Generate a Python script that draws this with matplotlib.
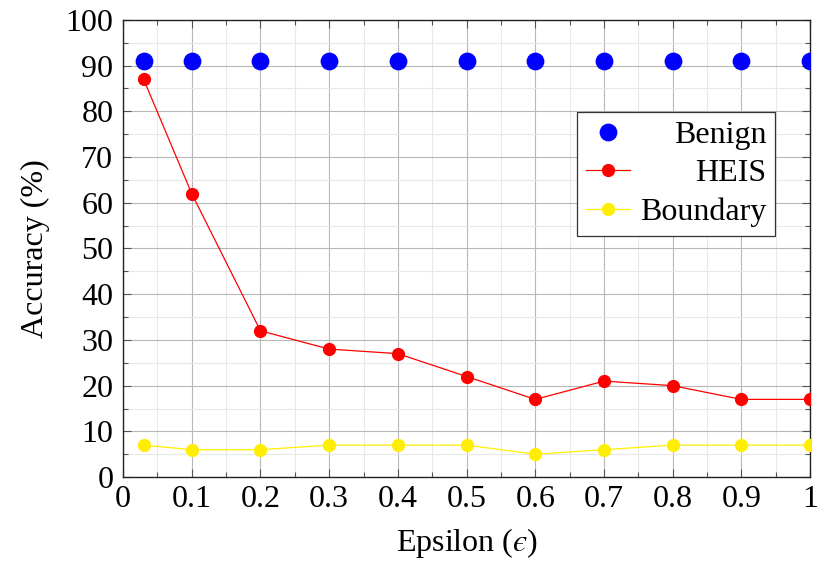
import matplotlib
matplotlib.use("Agg")
import matplotlib.pyplot as plt
from matplotlib.ticker import MultipleLocator

# ---- data -----------------------------------------------------------------
epsilon  = [0.03, 0.1, 0.2, 0.3, 0.4, 0.5, 0.6, 0.7, 0.8, 0.9, 1.0]
benign   = [91, 91, 91, 91, 91, 91, 91, 91, 91, 91, 91]
heis     = [87, 62, 32, 28, 27, 22, 17, 21, 20, 17, 17]
boundary = [7, 6, 6, 7, 7, 7, 5, 6, 7, 7, 7]

x_ticks     = [0, 0.1, 0.2, 0.3, 0.4, 0.5, 0.6, 0.7, 0.8, 0.9, 1]
x_ticklabel = ["0", "0.1", "0.2", "0.3", "0.4", "0.5", "0.6", "0.7", "0.8", "0.9", "1"]

FS = 23

plt.rcParams["font.family"] = ["Liberation Serif", "DejaVu Serif"]
plt.rcParams["mathtext.fontset"] = "stix"

fig = plt.figure(figsize=(8.2, 5.66), dpi=100)
ax = fig.add_axes([0.15, 0.157, 0.838, 0.808])

ax.plot(epsilon, benign, linestyle="none", marker="o", markersize=11.8,
        color="#0000ff", label="Benign", zorder=4)
ax.plot(epsilon, heis, linestyle="-", linewidth=0.9, marker="o", markersize=8.5,
        color="#ff0000", label="HEIS", zorder=3)
ax.plot(epsilon, boundary, linestyle="-", linewidth=0.9, marker="o", markersize=8.5,
        color="#ffee00", label="Boundary", zorder=3)

ax.set_xlim(0, 1)
ax.set_ylim(0, 100)
ax.set_xticks(x_ticks)
ax.set_xticklabels(x_ticklabel)
ax.set_yticks(range(0, 101, 10))
ax.xaxis.set_minor_locator(MultipleLocator(0.05))
ax.yaxis.set_minor_locator(MultipleLocator(5))

ax.grid(which="major", color="#b8b8b8", linewidth=0.8, zorder=0)
ax.grid(which="minor", color="#e8e8e8", linewidth=0.8, zorder=0)
ax.set_axisbelow(True)

ax.tick_params(which="both", direction="in", top=True, right=True,
               labelsize=FS, color="#555555")
ax.tick_params(axis="y", pad=7)
ax.tick_params(axis="x", pad=6)
ax.tick_params(which="major", length=6, width=0.8)
ax.tick_params(which="minor", length=3.5, width=0.8)
for s in ax.spines.values():
    s.set_color("#222222")
    s.set_linewidth(1.0)

ax.set_xlabel("Epsilon ($\u03f5$)", fontsize=FS, labelpad=8)
ax.set_ylabel("Accuracy (%)", fontsize=FS, labelpad=11)

leg = ax.legend(loc="upper right", bbox_to_anchor=(0.949, 0.799), borderaxespad=0,
                fontsize=FS, fancybox=False, framealpha=1, edgecolor="#333333",
                handlelength=1.4, handletextpad=0.3, borderpad=0.28,
                labelspacing=0.28)
leg.get_frame().set_linewidth(0.9)

# pgfplots-style legend: right-align the labels
renderer = fig.canvas.get_renderer()
widths = [t.get_window_extent(renderer).width for t in leg.get_texts()]
w_max = max(widths)
for t, w in zip(leg.get_texts(), widths):
    t.set_position((w_max - w, 0))

fig.savefig("out.png", dpi=100)
